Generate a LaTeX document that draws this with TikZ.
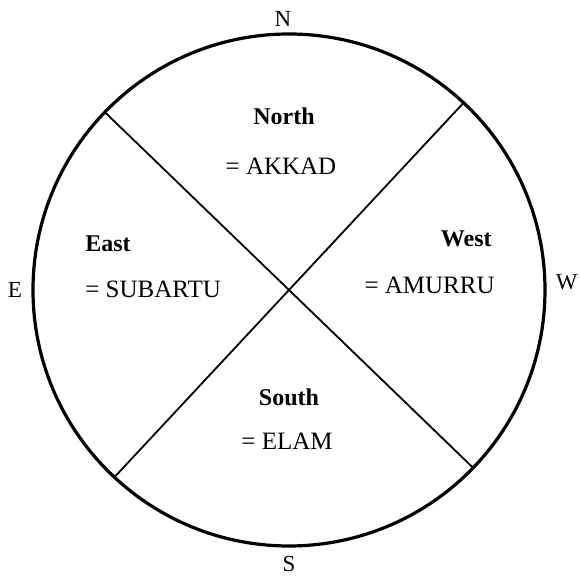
\documentclass[tikz,border=0pt]{standalone}
\usepackage{fontspec}
\setmainfont{Liberation Serif}

\tikzset{
	region/.style={font=\fontsize{12}{14}\selectfont\bfseries, inner sep=0pt},
	people/.style={font=\fontsize{12.5}{15}\selectfont, inner sep=0pt},
	point/.style={font=\fontsize{11.5}{14}\selectfont, inner sep=0pt}
}

\begin{document}
\begin{tikzpicture}[x=0.5pt, y=-0.5pt]
					\useasboundingbox (0,0) rectangle (580,576);
					\node[circle, draw, line width=1.6pt, minimum size=256pt, inner sep=0pt, outer sep=0pt] at (289,290) (rim) {};
					\draw[line width=0.9pt] (rim.136.5) -- (rim.316.5);
					\draw[line width=0.9pt] (rim.227) -- (rim.47);
					\node[point, anchor=base] at (283,27)   (pn) {N};
					\node[point, anchor=base] at (289,572)  (ps) {S};
					\node[point, anchor=base] at (15,298)   (pe) {E};
					\node[point, anchor=base east] at (578,290)  (pw) {W};
					\node[region, anchor=base] at (284,125)  (north) {North};
					\node[people, anchor=base] at (281,175)  (akkad) {= AKKAD};
					\node[region, anchor=base west] at (85,252)  (east) {East};
					\node[people, anchor=base west] at (85,298)  (subartu) {= SUBARTU};
					\node[region, anchor=base east] at (492,247) (west) {West};
					\node[people, anchor=base east] at (495,294) (amurru) {= AMURRU};
					\node[region, anchor=base] at (289,406)  (south) {South};
					\node[people, anchor=base] at (287,450)  (elam) {= ELAM};
				\end{tikzpicture}
\end{document}
